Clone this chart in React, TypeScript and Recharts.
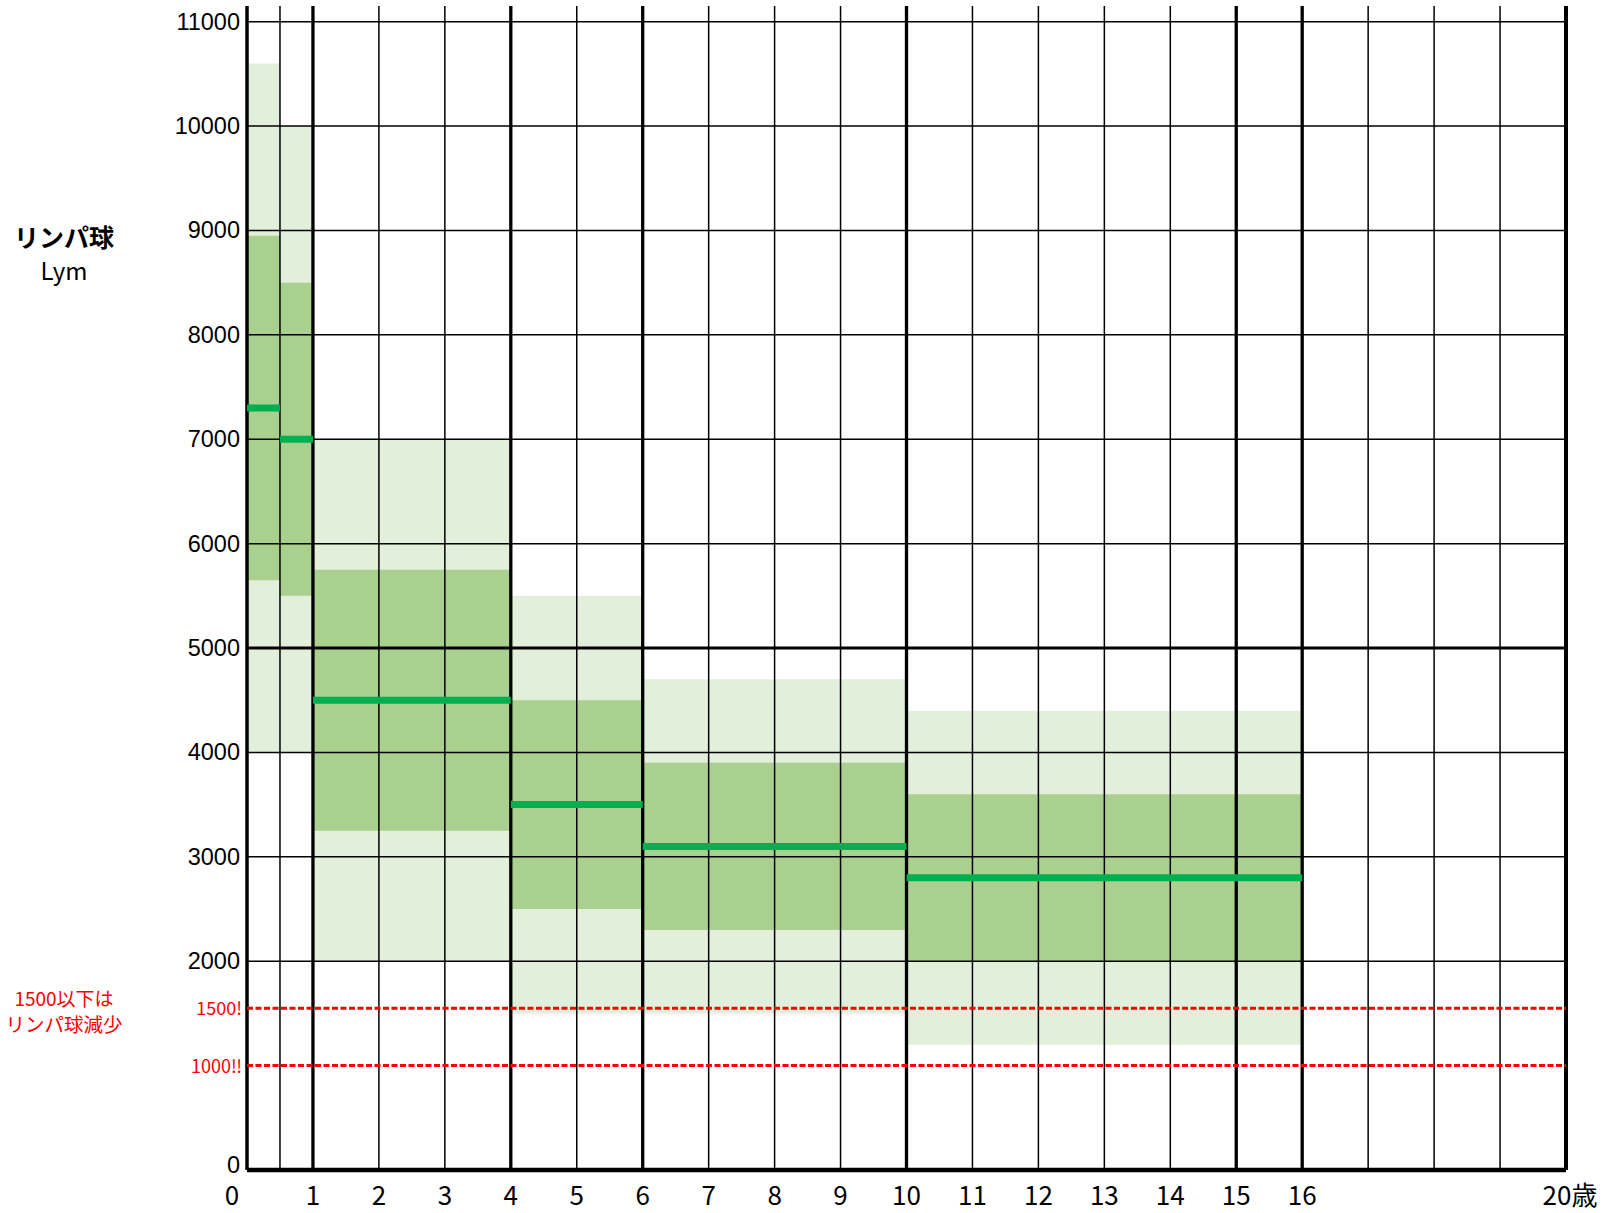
import React from "react";
import {
  ComposedChart,
  XAxis,
  YAxis,
  ReferenceArea,
  ReferenceLine,
} from "recharts";

// age bands (years)
const bandStart = [0, 0.5, 1, 4, 6, 10];
const bandEnd = [0.5, 1, 4, 6, 10, 16];
// outer (light) range
const outerLow = [4000, 4000, 2000, 1500, 1500, 1200];
const outerHigh = [10600, 10000, 7000, 5500, 4700, 4400];
// inner (dark) range
const innerLow = [5650, 5500, 3250, 2500, 2300, 2000];
const innerHigh = [8950, 8500, 5750, 4500, 3900, 3600];
// median
const median = [7300, 7000, 4500, 3500, 3100, 2800];

const xTicks = [0, 1, 2, 3, 4, 5, 6, 7, 8, 9, 10, 11, 12, 13, 14, 15, 16, 20];
const yTicks = [0, 2000, 3000, 4000, 5000, 6000, 7000, 8000, 9000, 10000, 11000];
const xGrid = [0.5, 1, 2, 3, 4, 5, 6, 7, 8, 9, 10, 11, 12, 13, 14, 15, 16, 17, 18, 19, 20];
const xGridBold = [1, 4, 6, 10, 15, 16];
const yGrid = [2000, 3000, 4000, 5000, 6000, 7000, 8000, 9000, 10000, 11000];
const yGridBold = [5000];
// red warning lines
const warnValues = [1550, 1000];
const warnLabels = ["1500!", "1000‼"];

const LIGHT = "#e2efda";
const DARK = "#a9d08e";
const MED = "#00b050";
const RED = "#ff0000";

const XTick = (props: any) => {
  const { x, y, payload } = props;
  const v = payload.value;
  const label = v === 20 ? "20歳" : String(v);
  const dx = v === 0 ? -15 : v === 20 ? 4 : 0;
  return (
    <text
      x={x + dx}
      y={y + 35}
      textAnchor="middle"
      fontSize={26}
      fontFamily="'Noto Sans CJK JP', sans-serif"
      fill="#000"
    >
      {label}
    </text>
  );
};

const YTick = (props: any) => {
  const { x, y, payload } = props;
  const v = payload.value;
  return (
    <text
      x={x - 7}
      y={y + 8 - (v === 0 ? 5 : 0)}
      textAnchor="end"
      fontSize={23.5}
      fontFamily="'Liberation Sans', Arial, sans-serif"
      fill="#000"
    >
      {v}
    </text>
  );
};

export default function App() {
  return (
    <div style={{ position: "absolute", left: 0, top: 0, width: 1616, height: 1213, background: "#fff" }}>
      <ComposedChart
        width={1616}
        height={1213}
        data={[]}
        margin={{ top: 6, right: 50, left: 167, bottom: 3 }}
      >
        <XAxis
          dataKey="age"
          type="number"
          domain={[0, 20]}
          ticks={xTicks}
          interval={0}
          axisLine={false}
          tickLine={false}
          tickSize={0}
          tickMargin={0}
          height={40}
          tick={<XTick />}
          allowDataOverflow
        />
        <YAxis
          type="number"
          domain={[0, 11150]}
          ticks={yTicks}
          interval={0}
          axisLine={false}
          tickLine={false}
          tickSize={0}
          tickMargin={0}
          width={80}
          tick={<YTick />}
          allowDataOverflow
        />

        {bandStart.map((s, i) => (
          <ReferenceArea
            key={"o" + i}
            x1={s}
            x2={bandEnd[i]}
            y1={outerLow[i]}
            y2={outerHigh[i]}
            fill={LIGHT}
            fillOpacity={1}
            stroke="none"
          />
        ))}
        {bandStart.map((s, i) => (
          <ReferenceArea
            key={"d" + i}
            x1={s}
            x2={bandEnd[i]}
            y1={innerLow[i]}
            y2={innerHigh[i]}
            fill={DARK}
            fillOpacity={1}
            stroke="none"
          />
        ))}

        {yGrid.map((v) => (
          <ReferenceLine
            key={"h" + v}
            y={v}
            stroke="#000"
            strokeWidth={yGridBold.includes(v) ? 3 : 1.5}
          />
        ))}
        {xGrid.map((v) => (
          <ReferenceLine
            key={"v" + v}
            x={v}
            stroke="#000"
            strokeWidth={v === 20 ? 4 : xGridBold.includes(v) ? 3.3 : 1.5}
          />
        ))}
        <ReferenceLine x={0} stroke="#000" strokeWidth={3.5} />
        <ReferenceLine y={0} stroke="#000" strokeWidth={4.5} />

        {warnValues.map((v, i) => (
          <ReferenceLine
            key={"w" + v}
            y={v}
            stroke={RED}
            strokeWidth={3}
            strokeDasharray="6 2.5"
            label={(p: any) => (
              <text
                x={p.viewBox.x - 5}
                y={p.viewBox.y + 7}
                textAnchor="end"
                fontSize={18}
                fontFamily="'Noto Sans CJK JP', sans-serif"
                fill={RED}
              >
                {warnLabels[i]}
              </text>
            )}
          />
        ))}

        {bandStart.map((s, i) => (
          <ReferenceLine
            key={"m" + i}
            segment={[
              { x: s, y: median[i] },
              { x: bandEnd[i], y: median[i] },
            ]}
            stroke={MED}
            strokeWidth={7}
          />
        ))}
      </ComposedChart>

      <svg
        width={1616}
        height={1213}
        style={{ position: "absolute", left: 0, top: 0, pointerEvents: "none" }}
      >
        <text
          x={64}
          y={247}
          textAnchor="middle"
          fontSize={25}
          fontWeight="bold"
          fontFamily="'Noto Sans CJK JP', sans-serif"
        >
          リンパ球
        </text>
        <text
          x={64}
          y={280}
          textAnchor="middle"
          fontSize={24}
          fontFamily="'Noto Sans CJK JP', sans-serif"
        >
          Lym
        </text>
        <text
          x={64}
          y={1006}
          textAnchor="middle"
          fontSize={19}
          fill={RED}
          fontFamily="'Noto Sans CJK JP', sans-serif"
        >
          1500以下は
        </text>
        <text
          x={64}
          y={1032}
          textAnchor="middle"
          fontSize={19.5}
          fill={RED}
          fontFamily="'Noto Sans CJK JP', sans-serif"
        >
          リンパ球減少
        </text>
      </svg>
    </div>
  );
}
